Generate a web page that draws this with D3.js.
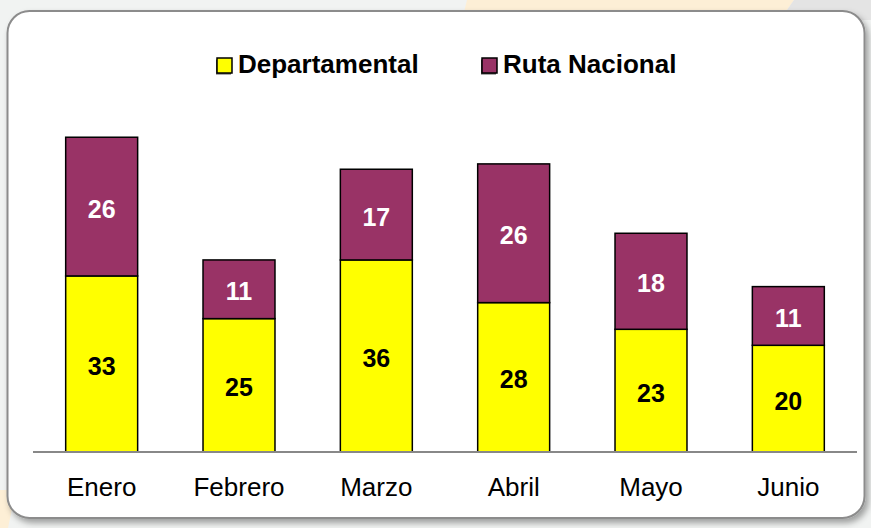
<!DOCTYPE html>
<html>
<head>
<meta charset="utf-8">
<script src="https://cdn.jsdelivr.net/npm/d3@7"></script>
<style>
  html, body { margin: 0; padding: 0; background: #f1f3f2; }
  svg { display: block; font-family: "Liberation Sans", Arial, sans-serif; }
</style>
</head>
<body>
<svg width="871" height="528"></svg>
<script>
let months = ['Enero', 'Febrero', 'Marzo', 'Abril', 'Mayo', 'Junio'];
let departamental = [33, 25, 36, 28, 23, 20];
let rutaNacional = [26, 11, 17, 26, 18, 11];
let seriesNames = ['Departamental', 'Ruta Nacional'];

let seriesColor = {
	'Departamental': '#ffff00',
	'Ruta Nacional': '#993366'
};
let labelColor = {
	'Departamental': '#000',
	'Ruta Nacional': '#fff'
};

let svg = d3.select('svg');
let W = +svg.attr('width');
let H = +svg.attr('height');

// fondo tipo diapositiva
svg.append('rect').attr('width', W).attr('height', H).attr('fill', '#f1f3f2');
svg.append('path')
	.attr('d', 'M467,0 L794,0 L780,20 L462,20 Z')
	.attr('fill', '#fdefd6');
svg.append('path')
	.attr('d', 'M794,0 L871,0 L871,20 L780,20 Z')
	.attr('fill', '#e4e4e4');
svg.append('path')
	.attr('d', 'M0,490 L16,490 L8,528 L0,528 Z')
	.attr('fill', '#fdefd6');

let defs = svg.append('defs');
let filt = defs.append('filter').attr('id', 'shadow')
	.attr('x', '-5%').attr('y', '-5%').attr('width', '110%').attr('height', '115%');
filt.append('feDropShadow')
	.attr('dx', 3).attr('dy', 4).attr('stdDeviation', 3)
	.attr('flood-color', '#000').attr('flood-opacity', 0.35);

svg.append('rect')
	.attr('x', 7.5).attr('y', 11)
	.attr('width', 857).attr('height', 507)
	.attr('rx', 22).attr('ry', 22)
	.attr('fill', '#fff')
	.attr('stroke', '#8c8c8c')
	.attr('stroke-width', 2)
	.attr('filter', 'url(#shadow)');

let data = months.map(function(m, i) {
	return { month: m, 'Departamental': departamental[i], 'Ruta Nacional': rutaNacional[i] };
});

let stacked = d3.stack().keys(seriesNames)(data);

let x = d3.scaleBand()
	.domain(months)
	.range([33, 857])
	.paddingInner(0.476)
	.paddingOuter(0.238);

let y = d3.scaleLinear()
	.domain([0, 60])
	.range([452, 131.9]);

let chart = svg.append('g');

let layers = chart.selectAll('g.layer')
	.data(stacked)
	.enter()
	.append('g')
	.attr('class', 'layer')
	.attr('fill', d => seriesColor[d.key]);

layers.selectAll('rect')
	.data(d => d)
	.enter()
	.append('rect')
	.attr('x', d => x(d.data.month))
	.attr('y', d => y(d[1]))
	.attr('width', x.bandwidth())
	.attr('height', d => y(d[0]) - y(d[1]))
	.attr('stroke', '#000')
	.attr('stroke-width', 1.5);

stacked.forEach(function(layer) {
	chart.selectAll('text.lbl-' + layer.index)
		.data(layer)
		.enter()
		.append('text')
		.attr('class', 'lbl-' + layer.index)
		.attr('x', d => x(d.data.month) + x.bandwidth() / 2)
		.attr('y', d => (y(d[0]) + y(d[1])) / 2 + 11)
		.attr('text-anchor', 'middle')
		.attr('font-size', 25)
		.attr('font-weight', 'bold')
		.attr('fill', labelColor[layer.key])
		.text(d => d.data[layer.key]);
});

// eje x
chart.append('line')
	.attr('x1', 33).attr('x2', 857)
	.attr('y1', y(0)).attr('y2', y(0))
	.attr('stroke', '#888')
	.attr('stroke-width', 2);

let xAxis = d3.axisBottom(x).tickSize(0).tickPadding(0);
let axisG = chart.append('g')
	.attr('transform', 'translate(0,' + y(0) + ')')
	.call(xAxis);
axisG.select('.domain').remove();
axisG.selectAll('text')
	.attr('dy', null)
	.attr('y', 44)
	.attr('font-size', 26)
	.attr('font-family', '"Liberation Sans", Arial, sans-serif')
	.attr('fill', '#000');

// leyenda
let legendPos = [217, 482];
let legend = svg.selectAll('g.legend')
	.data(seriesNames)
	.enter()
	.append('g')
	.attr('class', 'legend')
	.attr('transform', (d, i) => 'translate(' + legendPos[i] + ',58)');

legend.append('rect')
	.attr('x', -1).attr('y', 1.5)
	.attr('width', 15).attr('height', 15)
	.attr('fill', '#555');
legend.append('rect')
	.attr('width', 15).attr('height', 15)
	.attr('fill', d => seriesColor[d])
	.attr('stroke', '#000')
	.attr('stroke-width', 1.5);
legend.append('text')
	.attr('x', 21)
	.attr('y', 15)
	.attr('font-size', 26)
	.attr('font-weight', 'bold')
	.attr('fill', '#000')
	.text(d => d);
</script>
</body>
</html>
